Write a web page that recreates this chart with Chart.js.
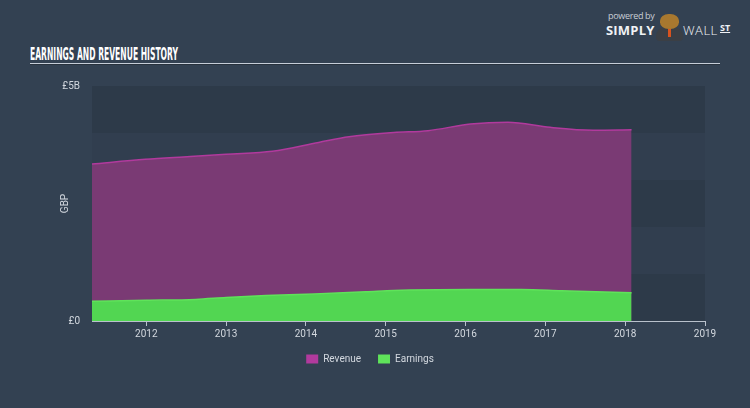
<!DOCTYPE html>
<html>
<head>
<meta charset="utf-8">
<script src="https://cdn.jsdelivr.net/npm/chart.js@4/dist/chart.umd.min.js"></script>
<style>
  html, body { margin:0; padding:0; width:750px; height:408px; overflow:hidden; background:#334152; }
  #wrap { position:absolute; left:0; top:0; width:750px; height:408px; }
  #title { position:absolute; left:30px; top:45px; line-height:18px; color:#ffffff; font-family:"DejaVu Sans Condensed","Roboto",sans-serif; font-weight:bold; font-size:18px; transform-origin:left top; white-space:nowrap; }
  #rule { position:absolute; left:30px; top:63px; width:690px; height:1px; background:#c5cdd8; border-bottom:1px solid #27313d; }
  #logo { position:absolute; left:606px; top:9px; color:#e6e9ee; font-family:"Open Sans",sans-serif; }
  #pow { position:absolute; left:2px; top:0px; font-size:9px; color:#c9ced6; white-space:nowrap; letter-spacing:-0.3px; }
  #simply { position:absolute; left:0px; top:12px; font-size:13px; font-weight:bold; white-space:nowrap; letter-spacing:0.2px; color:#f0f2f5; }
  #wall { position:absolute; left:77px; top:12px; font-size:13px; font-weight:300; white-space:nowrap; color:#f0f2f5; letter-spacing:0.5px; }
  #st { position:absolute; left:114px; top:12px; font-size:9px; font-weight:bold; white-space:nowrap; color:#f0f2f5; text-decoration:underline; }
  #head { position:absolute; left:54px; top:5px; width:19px; height:15px; border-radius:45%; background:#a8782f; }
  #body { position:absolute; left:50px; top:18px; width:27px; height:14px; border-radius:9px 9px 4px 4px; background:#3b3f45; }
  #tie { position:absolute; left:62px; top:20px; width:3px; height:8px; background:#d9531e; }
  canvas { position:absolute; left:0; top:0; }
</style>
</head>
<body>
<div id="wrap">
  <div id="title">EARNINGS AND REVENUE HISTORY</div>
  <div id="rule"></div>
  <div id="logo">
    <div id="pow">powered by</div>
    <div id="simply">SIMPLY</div>
    <div id="body"></div>
    <div id="tie"></div>
    <div id="head"></div>
    <div id="wall">WALL</div>
    <div id="st">ST</div>
  </div>
  <canvas id="c" width="750" height="408"></canvas>
</div>
<script>
// ---- data (years as decimal dates, values in £ billions) ----
const revenueDates = [2011.32, 2011.99, 2012.55, 2013.0, 2013.58, 2014.16, 2014.54, 2015.1, 2015.53, 2016.06, 2016.53, 2017.06, 2017.6, 2018.08];
const revenueValues = [3.34, 3.44, 3.50, 3.55, 3.61, 3.80, 3.92, 4.01, 4.05, 4.19, 4.23, 4.12, 4.06, 4.07];
const earningsDates = [2011.32, 2012.0, 2012.62, 2013.0, 2013.5, 2014.0, 2014.75, 2015.1, 2016.06, 2016.7, 2017.2, 2018.08];
const earningsValues = [0.42, 0.44, 0.46, 0.50, 0.54, 0.57, 0.62, 0.65, 0.67, 0.67, 0.645, 0.60];
const xTickYears = [2012, 2013, 2014, 2015, 2016, 2017, 2018, 2019];
const yTickValues = [0, 5];
const yTickLabels = ['£0', '£5B'];
const seriesNames = ['Revenue', 'Earnings'];

// fit the condensed title to its width in the reference
(function () {
  const t = document.getElementById('title');
  const w = t.getBoundingClientRect().width;
  t.style.transform = 'scaleX(' + (148 / w) + ')';
})();

const toPoints = (xs, ys) => xs.map((x, i) => ({ x: x, y: ys[i] }));

const bandPlugin = {
  id: 'bands',
  beforeDatasetsDraw(chart) {
    const { ctx, chartArea, scales } = chart;
    const y = scales.y;
    ctx.save();
    for (let v = 0; v < 5; v++) {
      const top = y.getPixelForValue(v + 1);
      const bot = y.getPixelForValue(v);
      ctx.fillStyle = (v % 2 === 0) ? 'rgba(40,52,66,0.55)' : 'rgba(44,57,72,0.25)';
      ctx.fillRect(chartArea.left, top, chartArea.right - chartArea.left, bot - top);
    }
    ctx.restore();
  }
};

const tickFont = { family: 'Roboto, sans-serif', size: 10 };

new Chart(document.getElementById('c'), {
  type: 'line',
  data: {
    datasets: [
      {
        label: seriesNames[0],
        data: toPoints(revenueDates, revenueValues),
        borderColor: '#b13a9d',
        backgroundColor: '#7a3a74',
        borderWidth: 1.5,
        fill: 'origin',
        pointRadius: 0,
        cubicInterpolationMode: 'monotone',
        order: 2
      },
      {
        label: seriesNames[1],
        data: toPoints(earningsDates, earningsValues),
        borderColor: '#5fe35a',
        backgroundColor: '#52d652',
        borderWidth: 1.5,
        fill: 'origin',
        pointRadius: 0,
        cubicInterpolationMode: 'monotone',
        order: 1
      }
    ]
  },
  plugins: [bandPlugin],
  options: {
    responsive: false,
    animation: false,
    layout: { padding: { left: 35, right: 45, top: 86, bottom: 34 } },
    plugins: {
      tooltip: { enabled: false },
      legend: {
        position: 'bottom',
        labels: {
          color: '#d3d8df',
          font: { family: 'Roboto, sans-serif', size: 10 },
          boxWidth: 12,
          boxHeight: 9,
          padding: 17,
          sort: (a, b) => a.datasetIndex - b.datasetIndex,
          generateLabels(chart) {
            return chart.data.datasets.map((ds, i) => ({
              text: ds.label,
              fillStyle: ds.borderColor,
              strokeStyle: ds.borderColor,
              lineWidth: 0,
              fontColor: '#d3d8df',
              hidden: false,
              datasetIndex: i
            }));
          }
        }
      }
    },
    scales: {
      x: {
        type: 'linear',
        min: revenueDates[0],
        max: xTickYears[xTickYears.length - 1],
        afterBuildTicks(scale) { scale.ticks = xTickYears.map(v => ({ value: v })); },
        afterFit(scale) { scale.height = 16; },
        grid: { display: true, drawOnChartArea: false, drawTicks: true, tickLength: 5, color: '#b9c1cc' },
        border: { display: true, color: '#b9c1cc', width: 1 },
        ticks: { color: '#d3d8df', font: tickFont, padding: 2, maxRotation: 0, autoSkip: false, callback: v => String(v) }
      },
      y: {
        min: 0,
        max: 5,
        afterBuildTicks(scale) { scale.ticks = yTickValues.map(v => ({ value: v })); },
        afterFit(scale) { scale.width = 57; },
        grid: { display: false, drawTicks: false },
        border: { display: false },
        title: { display: true, text: 'GBP', color: '#d3d8df', font: tickFont, padding: { top: 24, bottom: 0 } },
        ticks: {
          color: '#d3d8df', font: tickFont, padding: 12,
          callback: (v) => yTickLabels[yTickValues.indexOf(v)]
        }
      }
    }
  }
});
</script>
</body>
</html>
